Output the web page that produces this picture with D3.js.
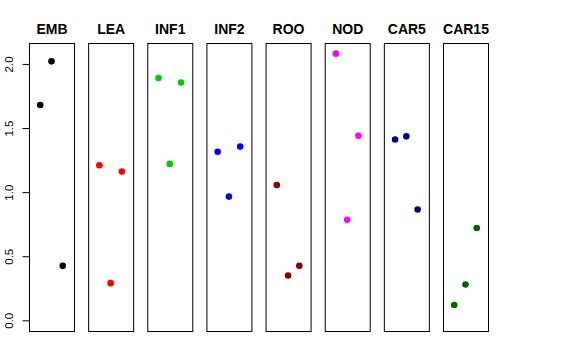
<!DOCTYPE html>
<html>
<head>
<meta charset="utf-8">
<script src="https://cdn.jsdelivr.net/npm/d3@7"></script>
<style>
  html, body { margin: 0; padding: 0; background: #fff; }
  svg { display: block; }
  text { font-family: "Liberation Sans", Arial, Helvetica, sans-serif; }
</style>
</head>
<body>
<svg id="chart" width="576" height="360"></svg>
<script>
// ---- data ----
const categories = ["EMB", "LEA", "INF1", "INF2", "ROO", "NOD", "CAR5", "CAR15"];
const rep1 = [1.68, 1.21, 1.89, 1.315, 1.055, 2.08, 1.41, 0.12];
const rep2 = [2.02, 0.29, 1.22, 0.965, 0.35, 0.785, 1.435, 0.28];
const rep3 = [0.425, 1.16, 1.855, 1.355, 0.425, 1.44, 0.865, 0.72];
const yTicks = [0, 0.5, 1, 1.5, 2];
const colors = ["#000000", "#FF0000", "#00CD00", "#0000FF", "#8B0000", "#FF00FF", "#000080", "#006400"];

// ---- layout ----
const svg = d3.select("#chart");
const plotTop = 43, plotBottom = 331;
const x = d3.scaleBand().domain(categories).range([29, 488]).paddingInner(0.239).paddingOuter(0);
const bw = x.bandwidth();
const xi = d3.scaleLinear().domain([0, 4]).range([0, bw]);
const yMin = -0.0832, yMax = 2.1632;
const y = d3.scaleLinear().domain([yMin, yMax]).range([plotBottom, plotTop]);

categories.forEach((cat, i) => {
  const g = svg.append("g").attr("transform", `translate(${x(cat)},0)`);
  g.append("rect")
    .attr("x", 0.5).attr("y", plotTop + 0.5)
    .attr("width", bw).attr("height", plotBottom - plotTop)
    .attr("fill", "none").attr("stroke", "#000").attr("stroke-width", 1);
  g.append("text")
    .attr("x", bw / 2 + 0.5).attr("y", 34)
    .attr("text-anchor", "middle")
    .attr("font-size", 14).attr("font-weight", "bold")
    .text(cat);
  const vals = [rep1[i], rep2[i], rep3[i]];
  g.selectAll("circle").data(vals).enter().append("circle")
    .attr("cx", (d, j) => xi(j + 1))
    .attr("cy", d => y(d))
    .attr("r", 3.3)
    .attr("fill", colors[i]);
});

// y axis on first panel
const axisG = svg.append("g").attr("transform", `translate(${x(categories[0]) + 0.5},0)`);
const axis = d3.axisLeft(y).tickValues(yTicks).tickSize(7).tickFormat(d3.format(".1f"));
axisG.call(axis);
axisG.select(".domain").remove();
axisG.selectAll(".tick line").attr("stroke", "#000");
axisG.selectAll(".tick text")
  .attr("font-family", "Liberation Sans, Arial, sans-serif")
  .attr("font-size", 11.5)
  .attr("fill", "#000")
  .attr("text-anchor", "middle")
  .attr("dy", null)
  .attr("x", null)
  .attr("transform", "translate(-16.5,0) rotate(-90)");
</script>
</body>
</html>
